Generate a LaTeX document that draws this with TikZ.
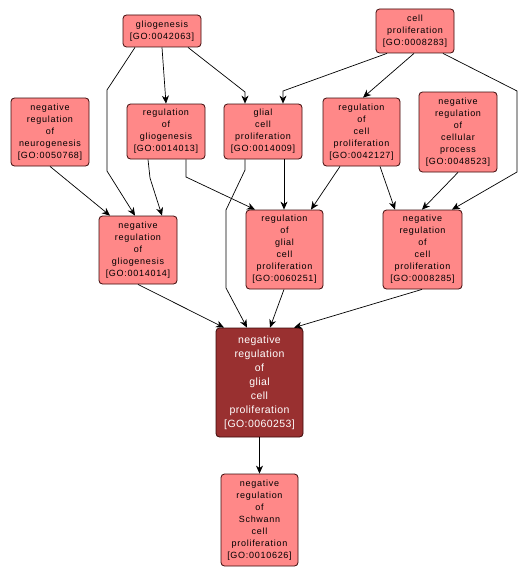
\documentclass[tikz,border=0pt]{standalone}
\usepackage{fontspec}
\setmainfont{Liberation Sans}
\newfontfamily\lightfont{Liberation Sans}[LetterSpace=8]
\newfontfamily\darkfont{Liberation Sans}[LetterSpace=4]
\usetikzlibrary{arrows.meta}
\definecolor{lightfill}{RGB}{255,136,136}
\definecolor{darkfill}{RGB}{153,48,48}
\definecolor{boxline}{RGB}{60,10,10}
\tikzset{
  goterm/.style={draw=boxline, line width=0.8pt, fill=lightfill, rounded corners=3.5pt,
    align=center, inner sep=0pt, minimum width=78pt,
    font=\lightfont\fontsize{9}{12}\selectfont, text=black},
  goterm dark/.style={goterm, fill=darkfill, text=white,
    font=\darkfont\fontsize{10.5}{14}\selectfont},
  link/.style={draw=black, line width=0.7pt, -{Stealth[length=8pt,width=7pt,inset=2.5pt]}}
}
\begin{document}
\begin{tikzpicture}[x=1pt,y=-1pt]
\useasboundingbox (0,0) rectangle (527,578);
% nodes
\node[goterm, minimum height=32pt] (gliog) at (162,31) {gliogenesis\\{[GO:0042063]}};
\node[goterm, minimum height=44pt] (cellprol) at (415,31) {cell\\proliferation\\{[GO:0008283]}};
\node[goterm, minimum height=68pt] (nrneuro) at (50,132) {negative\\regulation\\of\\neurogenesis\\{[GO:0050768]}};
\node[goterm, minimum height=55pt] (reggliog) at (166,131.5) {regulation\\of\\gliogenesis\\{[GO:0014013]}};
\node[goterm, minimum height=55pt] (glialcp) at (263,131.5) {glial\\cell\\proliferation\\{[GO:0014009]}};
\node[goterm, minimum height=68pt, minimum width=77pt] (regcp) at (361.5,132) {regulation\\of\\cell\\proliferation\\{[GO:0042127]}};
\node[goterm, minimum height=80pt] (nrcellular) at (458,132) {negative\\regulation\\of\\cellular\\process\\{[GO:0048523]}};
\node[goterm, minimum height=68pt] (nrgliog) at (138,250) {negative\\regulation\\of\\gliogenesis\\{[GO:0014014]}};
\node[goterm, minimum height=79pt, minimum width=77pt] (regglial) at (284.5,249.5) {regulation\\of\\glial\\cell\\proliferation\\{[GO:0060251]}};
\node[goterm, minimum height=79pt, minimum width=79pt] (nrcp) at (422.5,249.5) {negative\\regulation\\of\\cell\\proliferation\\{[GO:0008285]}};
\node[goterm dark, minimum height=109pt, minimum width=87pt] (nrglial) at (259.5,382.5) {negative\\regulation\\of\\glial\\cell\\proliferation\\{[GO:0060253]}};
\node[goterm, minimum height=92pt, minimum width=77pt] (schwann) at (259.5,520) {negative\\regulation\\of\\Schwann\\cell\\proliferation\\{[GO:0010626]}};
% bend points
\coordinate (b1) at (245,92);
\coordinate (b2a) at (107,90);
\coordinate (b2b) at (107,171);
\coordinate (b3) at (150,178);
\coordinate (b4a) at (186,177);
\coordinate (b5a) at (245,170);
\coordinate (b5b) at (226,210);
\coordinate (b5c) at (226,288);
\coordinate (b6) at (283,91);
\coordinate (b7a) at (517,91);
\coordinate (b7b) at (517,172);
% edges
\draw[link] (gliog.south) -- (reggliog.north);
\draw[link] ([xshift=26pt]gliog.south) -- (b1) -- ([xshift=-18pt]glialcp.north);
\draw[link] ([xshift=-27pt]gliog.south) -- (b2a) -- (b2b) -- ([xshift=-3pt]nrgliog.north);
\draw[link] (nrneuro.south) -- ([xshift=-28pt]nrgliog.north);
\draw[link] ([xshift=-18pt]reggliog.south) -- (b3) -- ([xshift=24pt]nrgliog.north);
\draw[link] ([xshift=20pt]reggliog.south) -- (b4a) -- ([xshift=-29.5pt]regglial.north);
\draw[link] ([xshift=21pt]glialcp.south) -- ([xshift=-0.5pt]regglial.north);
\draw[link] ([xshift=-18pt]glialcp.south) -- (b5a) -- (b5b) -- (b5c) -- ([xshift=-12.5pt]nrglial.north);
\draw[link] ([xshift=-28pt]cellprol.south) -- (b6) -- ([xshift=20pt]glialcp.north);
\draw[link] ([xshift=-1pt]cellprol.south) -- ([xshift=1.5pt]regcp.north);
\draw[link] ([xshift=28pt]cellprol.south) -- (b7a) -- (b7b) -- ([xshift=29.5pt]nrcp.north);
\draw[link] ([xshift=-21.5pt]regcp.south) -- ([xshift=26.5pt]regglial.north);
\draw[link] ([xshift=18.5pt]regcp.south) -- ([xshift=-27.5pt]nrcp.north);
\draw[link] (nrcellular.south) -- ([xshift=-0.5pt]nrcp.north);
\draw[link] (nrgliog.south) -- ([xshift=-35.5pt]nrglial.north);
\draw[link] ([xshift=-0.5pt]regglial.south) -- ([xshift=10.5pt]nrglial.north);
\draw[link] ([xshift=-0.5pt]nrcp.south) -- ([xshift=34.5pt]nrglial.north);
\draw[link] (nrglial.south) -- (schwann.north);
\end{tikzpicture}
\end{document}
